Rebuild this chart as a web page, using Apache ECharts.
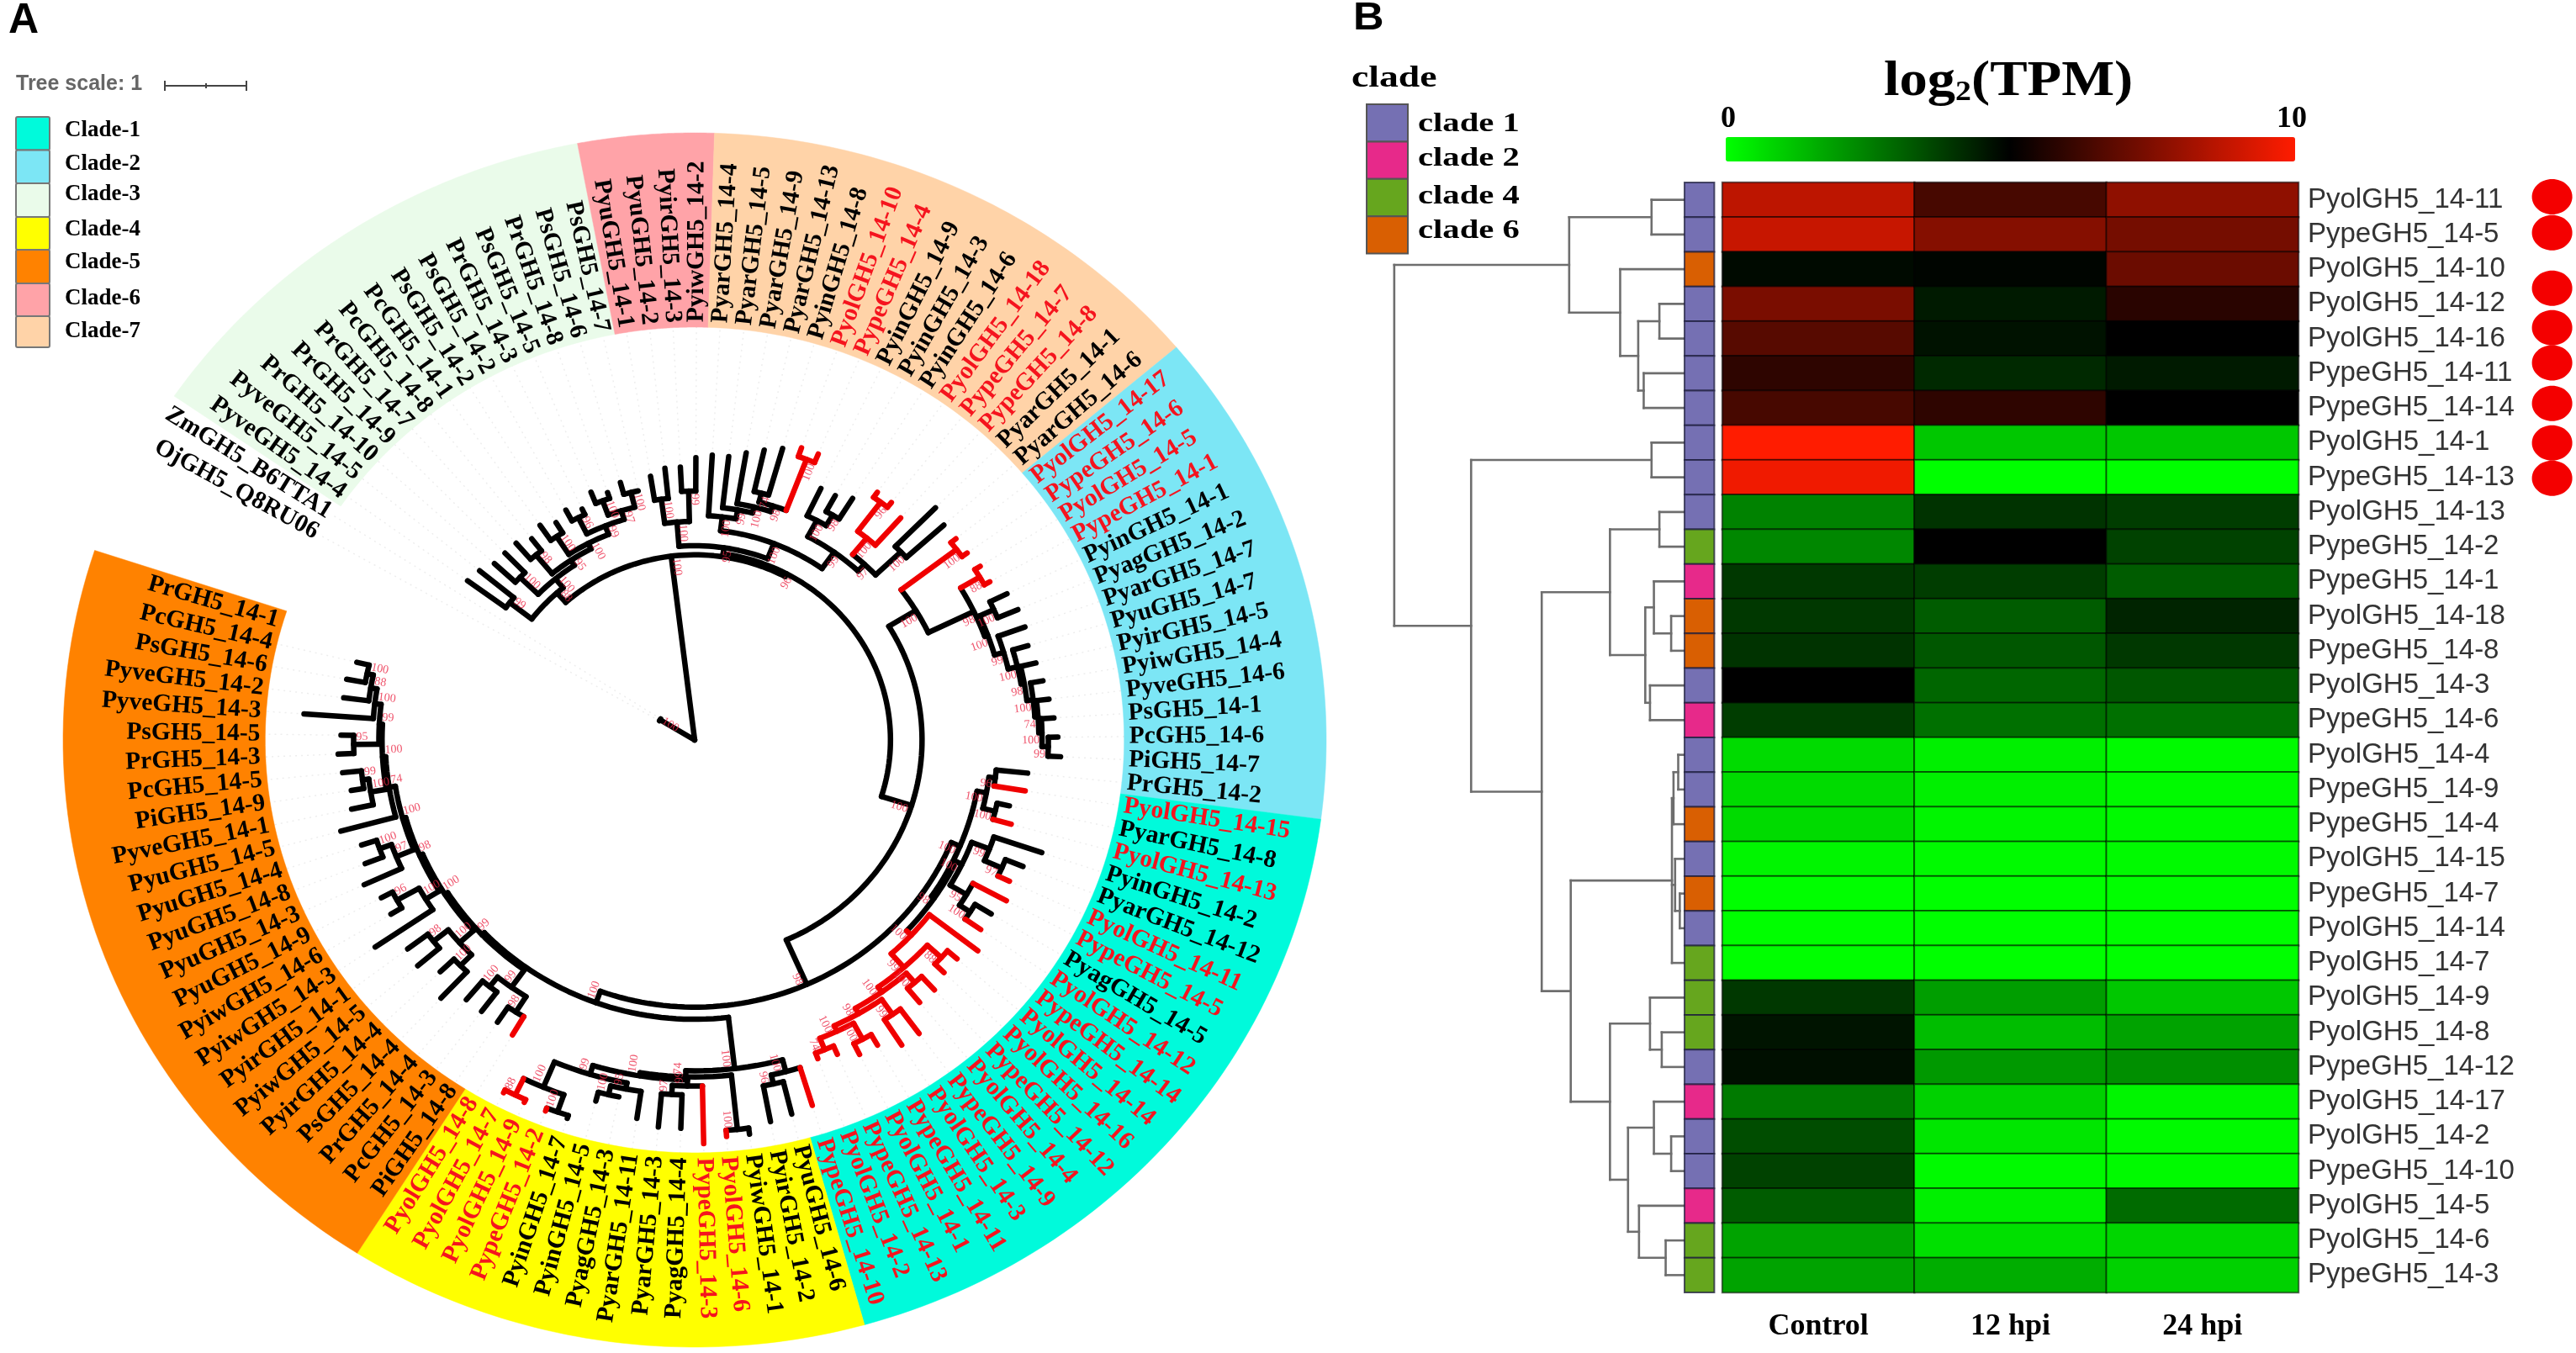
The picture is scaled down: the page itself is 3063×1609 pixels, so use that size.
<!DOCTYPE html>
<html><head><meta charset="utf-8">
<style>html,body{margin:0;padding:0;background:#fff}#c{width:3063px;height:1609px}</style>
<script src="https://cdn.jsdelivr.net/npm/echarts@6/dist/echarts.min.js"></script>
</head><body><div id="c"></div>
<script>
// ---------- Panel B data ----------
const rowLabels = ['PyolGH5_14-11','PypeGH5_14-5','PyolGH5_14-10','PyolGH5_14-12','PyolGH5_14-16','PypeGH5_14-11','PypeGH5_14-14','PyolGH5_14-1','PypeGH5_14-13','PyolGH5_14-13','PypeGH5_14-2','PypeGH5_14-1','PyolGH5_14-18','PypeGH5_14-8','PyolGH5_14-3','PypeGH5_14-6','PyolGH5_14-4','PypeGH5_14-9','PypeGH5_14-4','PyolGH5_14-15','PypeGH5_14-7','PyolGH5_14-14','PyolGH5_14-7','PyolGH5_14-9','PyolGH5_14-8','PypeGH5_14-12','PyolGH5_14-17','PyolGH5_14-2','PypeGH5_14-10','PyolGH5_14-5','PyolGH5_14-6','PypeGH5_14-3'];
const conditions = ['Control','12 hpi','24 hpi'];
const tpmControl = [8.7,8.9,4.8,7.4,6.7,5.9,6.4,10,9.7,2.45,2.35,3.9,3.9,4,5,3.8,0.7,0.7,0.7,0.2,0,0,0,3.9,4.6,4.7,2.6,3.5,3.7,3.2,1.8,1.8];
const tpm12h    = [6.4,7.6,4.9,4.5,4.65,4.2,5.9,1.1,0,4,5,3.8,3.2,3.3,3,2.8,0.3,0.3,0.2,0.1,0,0,0,1.9,1.3,2,0.9,0.5,0.1,0.3,0.6,1.6];
const tpm24h    = [7.8,7.3,7.1,5.8,5,4.5,5,1.1,0,3.8,3.7,3.2,4.3,3.9,3.3,2.8,0.1,0.1,0.1,0.1,0,0,0,1.1,1.8,2.2,0.2,0.1,0.1,2.9,0.8,0.9];
const rowClade = [1,1,6,1,1,1,1,1,1,1,4,2,6,6,1,2,1,1,6,1,6,1,4,4,4,1,2,1,1,2,4,4];
const heatClades = ['clade 1','clade 2','clade 4','clade 6'];
const heatCladeIds = [1,2,4,6];
const heatCladeColors = ['#7570b3','#e7298a','#66a61e','#d95f02'];
const dotRows = [0.41,1.45,3.05,4.19,5.2,6.37,7.51,8.53];
// dendrogram: [height, child, child]; a plain number is the next row, the number being unused height
const L = 432;
const dendro = [62,
  [285,
    [390,L,L],
    [350,L,[373,[400,L,L],[380,L,L]]]],
  [160,
    [390,L,L],
    [250,
      [337,
        [400,L,L],
        [382,[393,L,[415,L,L]],[388,L,L]]],
      [287,
        [416,[418,[424,L,L],L],[420,L,[426,L,L]],L],
        [337,
          [388,L,[403,L,L]],
          [360,[393,L,[415,L,L]],[374,L,[408,L,L]]]]]]]];

// ---------- Panel A data ----------
const ringBounds = [-62,-55.5,-10.7,1.8,49.7,97.5,164.4,212.3,288.2];
const ringNames  = ['outgroup','Clade-3','Clade-6','Clade-7','Clade-2','Clade-1','Clade-4','Clade-5'];
const ringColors = [null,'#eafbea','#ffa3a8','#ffd3a8','#7ce6f5','#00fadb','#ffff00','#ff8200'];
const legendOrder = ['Clade-1','Clade-2','Clade-3','Clade-4','Clade-5','Clade-6','Clade-7'];
const outgroupLeaves = ['OjGH5_Q8RU06','ZmGH5_B6TTA1'];
const clade3Leaves = ['PyveGH5_14-4','PyveGH5_14-5','PrGH5_14-10','PrGH5_14-9','PrGH5_14-7','PcGH5_14-8','PcGH5_14-1','PsGH5_14-2','PsGH5_14-2','PrGH5_14-3','PsGH5_14-5','PrGH5_14-8','PsGH5_14-6','PsGH5_14-7'];
const clade6Leaves = ['PyuGH5_14-1','PyuGH5_14-2','PyirGH5_14-3','PyiwGH5_14-2'];
const clade7Leaves = ['PyarGH5_14-4','PyarGH5_14-5','PyarGH5_14-9','PyarGH5_14-13','PyinGH5_14-8','PyolGH5_14-10','PypeGH5_14-4','PyinGH5_14-9','PyinGH5_14-3','PyinGH5_14-6','PyolGH5_14-18','PypeGH5_14-7','PypeGH5_14-8','PyarGH5_14-1','PyarGH5_14-6'];
const clade2Leaves = ['PyolGH5_14-17','PypeGH5_14-6','PyolGH5_14-5','PypeGH5_14-1','PyinGH5_14-1','PyagGH5_14-2','PyarGH5_14-7','PyuGH5_14-7','PyirGH5_14-5','PyiwGH5_14-4','PyveGH5_14-6','PsGH5_14-1','PcGH5_14-6','PiGH5_14-7','PrGH5_14-2'];
const clade1Leaves = ['PyolGH5_14-15','PyarGH5_14-8','PyolGH5_14-13','PyinGH5_14-2','PyarGH5_14-12','PyolGH5_14-11','PypeGH5_14-5','PyagGH5_14-5','PyolGH5_14-12','PypeGH5_14-14','PyolGH5_14-14','PyolGH5_14-16','PypeGH5_14-12','PyolGH5_14-4','PypeGH5_14-9','PyolGH5_14-3','PypeGH5_14-11','PyolGH5_14-1','PypeGH5_14-13','PyolGH5_14-2','PypeGH5_14-10'];
const clade4Leaves = ['PyuGH5_14-6','PyirGH5_14-2','PyiwGH5_14-1','PyolGH5_14-6','PypeGH5_14-3','PyagGH5_14-4','PyarGH5_14-3','PyarGH5_14-11','PyagGH5_14-3','PyinGH5_14-5','PyinGH5_14-7','PypeGH5_14-2','PyolGH5_14-9','PyolGH5_14-7','PyolGH5_14-8'];
const clade5Leaves = ['PiGH5_14-8','PcGH5_14-3','PrGH5_14-4','PsGH5_14-4','PyirGH5_14-4','PyiwGH5_14-5','PyirGH5_14-1','PyiwGH5_14-3','PyiwGH5_14-6','PyuGH5_14-9','PyuGH5_14-3','PyuGH5_14-8','PyuGH5_14-4','PyuGH5_14-5','PyveGH5_14-1','PiGH5_14-9','PcGH5_14-5','PrGH5_14-3','PsGH5_14-5','PyveGH5_14-3','PyveGH5_14-2','PsGH5_14-6','PcGH5_14-4','PrGH5_14-1'];
const leafGroups = [outgroupLeaves,clade3Leaves,clade6Leaves,clade7Leaves,clade2Leaves,clade1Leaves,clade4Leaves,clade5Leaves];
const redLeaves = [[],[],[],[5,6,10,11,12],[0,1,2,3],[0,2,5,6,8,9,10,11,12,13,14,15,16,17,18,19,20],[3,4,11,12,13,14],[]];
const bootstrapValues = ['100','99','100','98','100','96','100','100','97','99','100','95','100','88','100','99','100','74','100','98'];

// branch radii as fractions of the ring's outer radius
const treeOutgroup = [.064,.064,.064];
const treeClade3 = [{r:.326,a:-42},
  [.37,.445,.44],
  [.345,
    [.385,.43,.43],
    [.355,
      [.395,.43,.42],
      [.365,
        [.40,.43,.42],
        [.38,[.41,.43,.42],[.395,[.42,.44,.43],[.42,.44,.41]]]]]]];
const treeClade6 = [.36,[.40,.44,.45],[.41,.45,.465]];
const treeClade7 = [.347,
  [.37,.47,[.385,.47,[.395,.48,[.405,[.42,.49,.50],[.495,.51,.51]]]]],
  [.38,
    [.41,.46,[.43,.46,.47]],
    [.395,[.43,[.49,.50,.50],.49],[.45,.54,.53]]]];
const treeClade2 = [.41,
  [.52,.53,.53],
  [.49,
    [.525,.535,.535],
    [.495,
      [.52,.55,.555],
      [.51,.555,
        [.525,.55,
          [.53,.555,
            [.54,.56,
              [.545,.565,
                [.55,.57,
                  [.56,.575,.58]]]]]]]]]];
const treeClade1Top = [.47,[.48,.53,.53],[.49,.51,.52]];
const treeClade1Mid = [.47,[.50,.58,[.53,.56,.55]],[.50,.56,[.52,.55,.55]]];
const treeClade1Red = [.47,.567,
  [.50,[.53,.55,.55],
    [.51,[.53,.56,.56],
      [.52,[.55,.6,.6],
        [.53,[.56,.58,.58],[.55,.565,.56]]]]]];
const treeClade4 = [.545,
  [.565,.63,[.58,.635,.64]],
  [.555,
    [.645,.655,.655],
    [.56,
      [.57,.665,[.585,.64,.64]],
      [.575,
        [.585,.63,[.60,.60,.615]],
        [.62,[.65,.655,.655],[.65,.655,.655]]]]]];
const treeClade5 = [.465,
  [.50,[.53,.565,.56],[.52,.56,.56]],
  [.47,
    [.50,[.525,.585,.555],[.53,.575,.57]],
    [.475,
      [.50,.61,[.54,.56,.56]],
      [.48,
        [.51,.575,[.53,.56,.555]],
        [.49,.58,
          [.495,
            [.52,.555,[.53,.55,.56]],
            [.50,
              [.54,.565,.56],
              [.51,.62,
                [.52,.56,[.53,.56,.55]]]]]]]]]];
const treeRoot = [0, treeOutgroup,
  [{r:.305,a:-7}, treeClade3,
    [{r:.31,a:28},
      [.32, treeClade6, treeClade7],
      [.36, treeClade2,
        [.44,
          [.455, treeClade1Top, [.46, treeClade1Mid, treeClade1Red]],
          [.46, treeClade4, treeClade5]]]]]];

// ---------- derived ----------
const heatData = [];
[tpmControl,tpm12h,tpm24h].forEach((col,c)=>col.forEach((v,r)=>heatData.push([c,r,v])));

const SERIF='"Liberation Serif",serif', SANS='"Liberation Sans",Arial,sans-serif';
const Rx=751, Ry=722, CX=826, CY=880;
const labelR=.688, innerR=.68;
const rad=d=>d*Math.PI/180;
const pol=(r,a)=>[r*Math.sin(rad(a)),r*Math.cos(rad(a))];

// leaves
const leaves=[];
leafGroups.forEach((g,gi)=>{
  const s=ringBounds[gi], e=ringBounds[gi+1], st=(e-s)/g.length;
  g.forEach((name,i)=>leaves.push({name,angle:s+st*(i+.5),red:redLeaves[gi].includes(i)}));
});

// phylogeny layout
let leafIx=0, bsIx=0;
const edges=[], boots=[], tips=[];
function place(n,depth){
  if(typeof n==='number'){
    const lf=leaves[leafIx++];
    lf.r=n; tips.push(lf);
    return {r:n,a:lf.angle,red:lf.red};
  }
  const head=n[0], r=typeof head==='number'?head:head.r;
  const kids=n.slice(1).map(k=>place(k,depth+1));
  const first=kids[0].a,last=kids[kids.length-1].a;
  const a=typeof head==='number'?(first+last)/2:head.a;
  const red=kids.every(k=>k.red);
  const lo=Math.min(first,last,a),hi=Math.max(first,last,a);
  if(r>0) edges.push({t:'arc',r,a0:lo,a1:hi,red});
  kids.forEach(k=>{ if(k.r>r) edges.push({t:'rad',r0:r,r1:k.r,a:k.a,red:k.red}); });
  if(depth>0) boots.push({r,a,text:bootstrapValues[bsIx++%bootstrapValues.length]});
  return {r,a,red};
}
const rootPlaced=place(treeRoot,0);

function lineRot(a){ // screen rotation of a radial text and whether it reads outwards
  const dx=Math.sin(rad(a))*Rx, dy=-Math.cos(rad(a))*Ry;
  const right=dx>0;
  const base=right?Math.atan2(dy,dx):Math.atan2(-dy,-dx);
  return {rot:-base,right};
}

// dendrogram layout
let rowIx=0; const dSeg=[];
function dPlace(n){
  if(typeof n==='number'){ const y=rowIx+.5; rowIx++; return {h:n,y}; }
  const h=n[0]; const kids=n.slice(1).map(dPlace);
  const y=(kids[0].y+kids[kids.length-1].y)/2;
  dSeg.push([h,kids[0].y,h,kids[kids.length-1].y]);
  kids.forEach(k=>dSeg.push([h,k.y,k.h,k.y]));
  return {h,y};
}
dPlace(dendro);

const option={
  backgroundColor:'#fff',animation:false,
  grid:[
    {left:CX-Rx,top:CY-Ry,width:2*Rx,height:2*Ry},
    {left:2048,top:217,width:685,height:1320},
    {left:1600,top:217,width:438.4,height:1320}
  ],
  xAxis:[
    {gridIndex:0,type:'value',min:-1,max:1,show:false},
    {gridIndex:1,type:'category',data:conditions,position:'bottom',axisLine:{show:false},axisTick:{show:false},splitLine:{show:false},
      axisLabel:{margin:23,fontFamily:SERIF,fontWeight:'bold',fontSize:36,color:'#000'}},
    {gridIndex:2,type:'value',min:0,max:470,show:false}
  ],
  yAxis:[
    {gridIndex:0,type:'value',min:-1,max:1,show:false},
    {gridIndex:1,type:'category',data:rowLabels,inverse:true,position:'right',axisLine:{show:false},axisTick:{show:false},splitLine:{show:false},
      axisLabel:{interval:0,margin:11,fontFamily:SANS,fontSize:33,color:'#333'}},
    {gridIndex:2,type:'value',min:0,max:32,inverse:true,show:false}
  ],
  visualMap:{type:'continuous',seriesIndex:5,dimension:2,min:0,max:10,orient:'horizontal',left:2052,top:163,itemWidth:29,itemHeight:677,padding:0,
    calculable:false,realtime:false,hoverLink:false,inRange:{color:['#00ff00','#000000','#ff1c00']}},
  series:[
    // ring wedges
    {type:'custom',xAxisIndex:0,yAxisIndex:0,silent:true,z:1,clip:false,
      data:ringColors.map((c,i)=>[i,ringBounds[i],ringBounds[i+1]]).filter(d=>ringColors[d[0]]),
      renderItem(p,api){
        const i=api.value(0),a0=api.value(1),a1=api.value(2),pts=[];
        for(let k=0;k<=60;k++){pts.push(api.coord(pol(1,a0+(a1-a0)*k/60)));}
        for(let k=60;k>=0;k--){pts.push(api.coord(pol(innerR,a0+(a1-a0)*k/60)));}
        return {type:'polygon',shape:{points:pts},style:{fill:ringColors[i],stroke:ringColors[i],lineWidth:.5}};
      }},
    // faint guide lines
    {type:'custom',xAxisIndex:0,yAxisIndex:0,silent:true,z:2,clip:false,
      data:tips.map((t,i)=>[i,t.r,t.angle]),
      renderItem(p,api){
        const a=api.value(2);
        return {type:'line',shape:{x1:api.coord(pol(api.value(1),a))[0],y1:api.coord(pol(api.value(1),a))[1],x2:api.coord(pol(innerR,a))[0],y2:api.coord(pol(innerR,a))[1]},
          style:{stroke:'rgba(0,0,0,.07)',lineWidth:1.5,lineDash:[2,5]}};
      }},
    // leaf labels
    {type:'custom',xAxisIndex:0,yAxisIndex:0,silent:true,z:4,clip:false,
      data:leaves.map((l,i)=>[i,l.angle]),
      renderItem(p,api){
        const l=leaves[api.value(0)],c=api.coord(pol(labelR,l.angle)),o=lineRot(l.angle);
        return {type:'text',x:c[0],y:c[1],rotation:o.rot,
          style:{text:l.name,x:0,y:0,fill:l.red?'#f5141e':'#000',font:'bold 29.5px '+SERIF,align:o.right?'left':'right',verticalAlign:'middle'}};
      }},
    // tree branches
    {type:'custom',xAxisIndex:0,yAxisIndex:0,silent:true,z:5,clip:false,
      data:edges.map((e,i)=>[i]),
      renderItem(p,api){
        const e=edges[api.value(0)],pts=[];
        if(e.t==='arc'){const n=Math.max(2,Math.ceil((e.a1-e.a0)/1.5));for(let k=0;k<=n;k++)pts.push(api.coord(pol(e.r,e.a0+(e.a1-e.a0)*k/n)));}
        else{pts.push(api.coord(pol(e.r0,e.a)),api.coord(pol(e.r1,e.a)));}
        return {type:'polyline',shape:{points:pts},style:{fill:null,stroke:e.red?'#f00000':'#000',lineWidth:6.5,lineCap:'round',lineJoin:'round'}};
      }},
    // bootstrap support
    {type:'custom',xAxisIndex:0,yAxisIndex:0,silent:true,z:6,clip:false,
      data:boots.map((b,i)=>[i]),
      renderItem(p,api){
        const b=boots[api.value(0)],o=lineRot(b.a),c=api.coord(pol(b.r-.004,b.a+1.3));
        return {type:'text',x:c[0],y:c[1],rotation:o.rot,
          style:{text:b.text,x:0,y:0,fill:'rgba(235,40,70,.8)',font:'14px '+SERIF,align:o.right?'right':'left',verticalAlign:'middle'}};
      }},
    // heat map
    {type:'heatmap',xAxisIndex:1,yAxisIndex:1,data:heatData,silent:true,z:3,
      itemStyle:{borderColor:'rgba(0,0,0,.55)',borderWidth:2},emphasis:{disabled:true}},
    // dendrogram
    {type:'custom',xAxisIndex:2,yAxisIndex:2,silent:true,z:3,clip:false,
      data:dSeg,
      renderItem(p,api){
        const a=api.coord([api.value(0),api.value(1)]),b=api.coord([api.value(2),api.value(3)]);
        return {type:'line',shape:{x1:a[0],y1:a[1],x2:b[0],y2:b[1]},style:{stroke:'#6e6e6e',lineWidth:2.6,lineCap:'square'}};
      }},
    // clade annotation strip
    {type:'custom',xAxisIndex:2,yAxisIndex:2,silent:true,z:3,clip:false,
      data:rowClade.map((c,i)=>[i,c]),
      renderItem(p,api){
        const i=api.value(0),a=api.coord([432,i]),b=api.coord([470,i+1]);
        return {type:'rect',shape:{x:a[0],y:a[1],width:b[0]-a[0],height:b[1]-a[1]},
          style:{fill:heatCladeColors[heatCladeIds.indexOf(api.value(1))],stroke:'rgba(30,30,60,.75)',lineWidth:2}};
      }},
    // red dots
    {type:'custom',xAxisIndex:2,yAxisIndex:2,silent:true,z:3,clip:false,
      data:dotRows.map(r=>[1538,r]),
      renderItem(p,api){
        const c=api.coord([api.value(0),api.value(1)]);
        return {type:'ellipse',shape:{cx:c[0],cy:c[1],rx:24,ry:21},style:{fill:'#f40000'}};
      }}
  ],
  graphic:[
    {type:'text',x:10,y:0,style:{text:'A',font:'bold 50px '+SANS,fill:'#000'}},
    {type:'text',x:1609,y:-1,scaleX:1.1,style:{text:'B',font:'bold 46px '+SANS,fill:'#000'}},
    {type:'text',x:19,y:88,style:{text:'Tree scale: 1',font:'bold 25px '+SANS,fill:'#666'}},
    {type:'line',shape:{x1:196,y1:102,x2:293,y2:102},style:{stroke:'#444',lineWidth:2}},
    {type:'line',shape:{x1:196,y1:96,x2:196,y2:108},style:{stroke:'#444',lineWidth:2}},
    {type:'line',shape:{x1:245,y1:99,x2:245,y2:105},style:{stroke:'#444',lineWidth:2}},
    {type:'line',shape:{x1:293,y1:96,x2:293,y2:108},style:{stroke:'#444',lineWidth:2}},
    ...legendOrder.map((n,i)=>{
      const tops=[139,178.5,218,258,297,337,376,413];
      return {type:'rect',shape:{x:19,y:tops[i],width:40,height:tops[i+1]-tops[i],r:2},style:{fill:ringColors[ringNames.indexOf(n)],stroke:'#777',lineWidth:2}};
    }),
    ...legendOrder.map((n,i)=>{
      const ys=[155,195,231,273,312,355,394];
      return {type:'text',x:77,y:ys[i],style:{text:n,font:'bold 27px '+SERIF,fill:'#000',verticalAlign:'middle'}};
    }),
    {type:'text',x:1607,y:94,scaleX:1.27,style:{text:'clade',font:'bold 36px '+SERIF,fill:'#000',verticalAlign:'middle'}},
    ...heatClades.map((n,i)=>({type:'rect',shape:{x:1625,y:124+i*44.4,width:49,height:44.4},style:{fill:heatCladeColors[i],stroke:'#555',lineWidth:2}})),
    ...heatClades.map((n,i)=>({type:'text',x:1686,y:[148,189,234,275][i],scaleX:1.27,style:{text:n,font:'bold 32px '+SERIF,fill:'#000',verticalAlign:'middle'}})),
    {type:'text',x:2240,y:97,scaleX:1.11,style:{text:'{a|log}{b|2}{a|(TPM)}',verticalAlign:'middle',rich:{
      a:{font:'bold 60px '+SERIF,fill:'#000'},b:{font:'bold 34px '+SERIF,fill:'#000',padding:[26,0,0,0]}}}},
    {type:'text',x:2046,y:142,style:{text:'0',font:'bold 36px '+SERIF,fill:'#000',verticalAlign:'middle'}},
    {type:'text',x:2707,y:142,style:{text:'10',font:'bold 36px '+SERIF,fill:'#000',verticalAlign:'middle'}}
  ]
};
echarts.init(document.getElementById('c'),null,{renderer:'canvas'}).setOption(option);
</script></body></html>
